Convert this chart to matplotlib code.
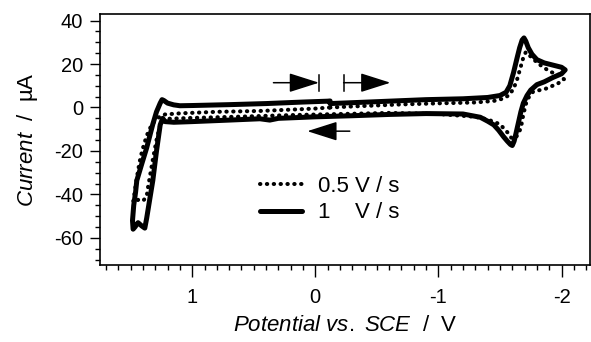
import numpy as np
import matplotlib
matplotlib.use("Agg")
import matplotlib.pyplot as plt
from matplotlib.ticker import MultipleLocator, FixedLocator

plt.rcParams['font.family'] = ['Liberation Sans', 'DejaVu Sans']
plt.rcParams['mathtext.fontset'] = 'custom'
plt.rcParams['mathtext.rm'] = 'Liberation Sans'
plt.rcParams['mathtext.it'] = 'Liberation Sans:italic'
plt.rcParams['axes.unicode_minus'] = False

# 1 V/s scan (solid), starting at -0.12 V going negative
E_fast = [-0.12, -0.3, -0.6, -0.9, -1.2, -1.4, -1.5, -1.55, -1.58, -1.61, -1.64, -1.66, -1.68,
          -1.695, -1.71, -1.73, -1.76, -1.8, -1.86, -1.93, -2.0, -2.03,
          -2.0, -1.93, -1.86, -1.8, -1.75, -1.72, -1.69, -1.67, -1.65, -1.63, -1.615, -1.6,
          -1.585, -1.56, -1.53, -1.49, -1.45, -1.4, -1.34, -1.2, -0.9, -0.6, -0.3, 0.0, 0.3,
          0.37, 0.45, 0.7, 1.0, 1.15, 1.22,
          1.24, 1.26, 1.29, 1.32, 1.35, 1.37, 1.385, 1.41, 1.44, 1.465, 1.48,
          1.485, 1.475, 1.46, 1.45, 1.41, 1.37, 1.32, 1.29, 1.26, 1.245, 1.23, 1.2, 1.15, 1.1,
          1.0, 0.7, 0.4, 0.1, -0.05, -0.1, -0.12]
I_fast = [1.8, 2.2, 2.9, 3.6, 4.0, 4.6, 5.5, 7.0, 10.0, 16.0, 23.0, 27.5, 31.0,
          32.0, 30.5, 27.5, 24.5, 22.0, 20.5, 19.5, 18.5, 17.3,
          15.5, 13.8, 11.8, 10.5, 8.0, 5.5, 2.0, -2.0, -7.0, -12.0, -15.5, -17.5,
          -17.0, -15.5, -13.5, -10.5, -8.0, -6.3, -4.5, -3.0, -2.8, -3.2, -3.8, -4.3, -5.0,
          -5.8, -5.2, -5.8, -6.5, -6.8, -6.5,
          -5.0, -8.0, -20.0, -33.6, -44.0, -51.0, -55.5, -54.5, -53.0, -55.0, -56.0,
          -52.0, -45.0, -39.0, -33.6, -26.0, -18.6, -7.7, -2.0, 2.0, 3.6, 3.2, 2.0, 1.2, 0.8,
          0.9, 1.3, 1.8, 2.5, 2.8, 2.9, 3.0]

# 0.5 V/s scan (dotted)
E_slow = [-0.12, -0.4, -0.7, -1.0, -1.3, -1.45, -1.52, -1.57, -1.61, -1.64, -1.665, -1.69,
          -1.71, -1.73, -1.77, -1.81, -1.85, -1.91, -1.98, -2.02,
          -1.97, -1.92, -1.87, -1.77, -1.72, -1.69, -1.67, -1.64, -1.61, -1.59, -1.57, -1.5,
          -1.4, -1.3, -1.0, -0.6, -0.2, 0.2, 0.6, 1.0, 1.2,
          1.22, 1.26, 1.29, 1.32, 1.34, 1.36, 1.37, 1.4, 1.44, 1.47, 1.48,
          1.47, 1.46, 1.44, 1.42, 1.4, 1.37, 1.33, 1.3, 1.26, 1.22, 1.1, 0.8, 0.45, 0.2, 0.0, -0.12]
I_slow = [0.0, 0.7, 1.4, 1.9, 2.3, 3.0, 4.0, 5.5, 8.5, 13.0, 18.0, 23.0,
          25.5, 24.5, 22.3, 20.3, 18.6, 16.4, 15.0, 13.0,
          11.0, 9.8, 8.6, 7.3, 3.6, -3.2, -9.5, -13.0, -14.5, -13.8, -12.0, -7.7,
          -5.5, -4.3, -3.0, -2.5, -3.0, -3.5, -4.2, -4.8, -5.2,
          -5.5, -8.0, -15.0, -24.0, -30.5, -37.0, -41.0, -43.0, -42.5, -43.5, -43.6,
          -40.0, -36.0, -29.0, -23.0, -18.6, -13.0, -8.0, -6.0, -4.0, -3.2, -2.7, -2.0, -1.6,
          -1.0, -0.5, 0.0]

labels = ['0.5 V / s', '1    V / s']
x_ticks = [1, 0, -1, -2]
y_ticks = [40, 20, 0, -20, -40, -60]

# scan direction arrows (x0, x1, y)
arrow_fwd_left = (0.34, -0.03, 11.4)
arrow_fwd_right = (-0.23, -0.61, 11.4)
arrow_back = (-0.28, 0.065, -10.9)

fig = plt.figure(figsize=(5.91, 3.42), dpi=100)
ax = fig.add_axes([0.169, 0.225, 0.829, 0.734])

ax.plot(E_slow, I_slow, color='black', lw=2.9, linestyle=(0, (0.1, 1.6)),
        dash_capstyle='round', label=labels[0])
ax.plot(E_fast, I_fast, color='black', lw=3.6, solid_joinstyle='round',
        solid_capstyle='round', label=labels[1])

ax.set_xlim(1.75, -2.23)
ax.set_ylim(-72.5, 43)

ax.xaxis.set_major_locator(FixedLocator(x_ticks))
ax.xaxis.set_minor_locator(MultipleLocator(0.1))
ax.yaxis.set_major_locator(FixedLocator(y_ticks))
ax.yaxis.set_minor_locator(MultipleLocator(5))
ax.set_xticklabels([str(t) for t in x_ticks])
ax.set_yticklabels([str(t) for t in y_ticks])

ax.tick_params(axis='x', which='major', direction='out', length=8.5, width=1.0,
               pad=8, labelsize=14.5)
ax.tick_params(axis='x', which='minor', direction='out', length=3.6, width=1.0)
ax.tick_params(axis='y', which='major', direction='out', length=7.2, width=1.0,
               pad=5, labelsize=14.5)
ax.tick_params(axis='y', which='minor', direction='out', length=3.6, width=1.0)
for sp in ax.spines.values():
    sp.set_linewidth(1.2)

ax.set_xlabel(r'$\it{Potential\ vs.\ SCE}$  /  V', fontsize=16, labelpad=6)
ax.set_ylabel(r'$\it{Current}$  /  µA', fontsize=16, labelpad=10)

# arrows
ap = dict(arrowstyle='-|>,head_length=1.1,head_width=0.35', color='black', lw=1.1,
          shrinkA=0, shrinkB=0, mutation_scale=17)
x0, x1, y = arrow_fwd_left
ax.annotate('', xy=(x1, y), xytext=(x0, y), arrowprops=ap)
ax.plot([x1, x1], [y - 3.6, y + 3.6], color='black', lw=1.1)
x0, x1, y = arrow_fwd_right
ax.annotate('', xy=(x1, y), xytext=(x0, y), arrowprops=ap)
ax.plot([x0, x0], [y - 3.6, y + 3.6], color='black', lw=1.1)
x0, x1, y = arrow_back
ax.annotate('', xy=(x1, y), xytext=(x0, y), arrowprops=ap)

ax.legend(loc='center left', bbox_to_anchor=(0.327, 0.261), frameon=False,
          fontsize=16, handlelength=1.9, handletextpad=0.7, labelspacing=0.25,
          borderpad=0, borderaxespad=0)

fig.savefig('out.png', dpi=100)
